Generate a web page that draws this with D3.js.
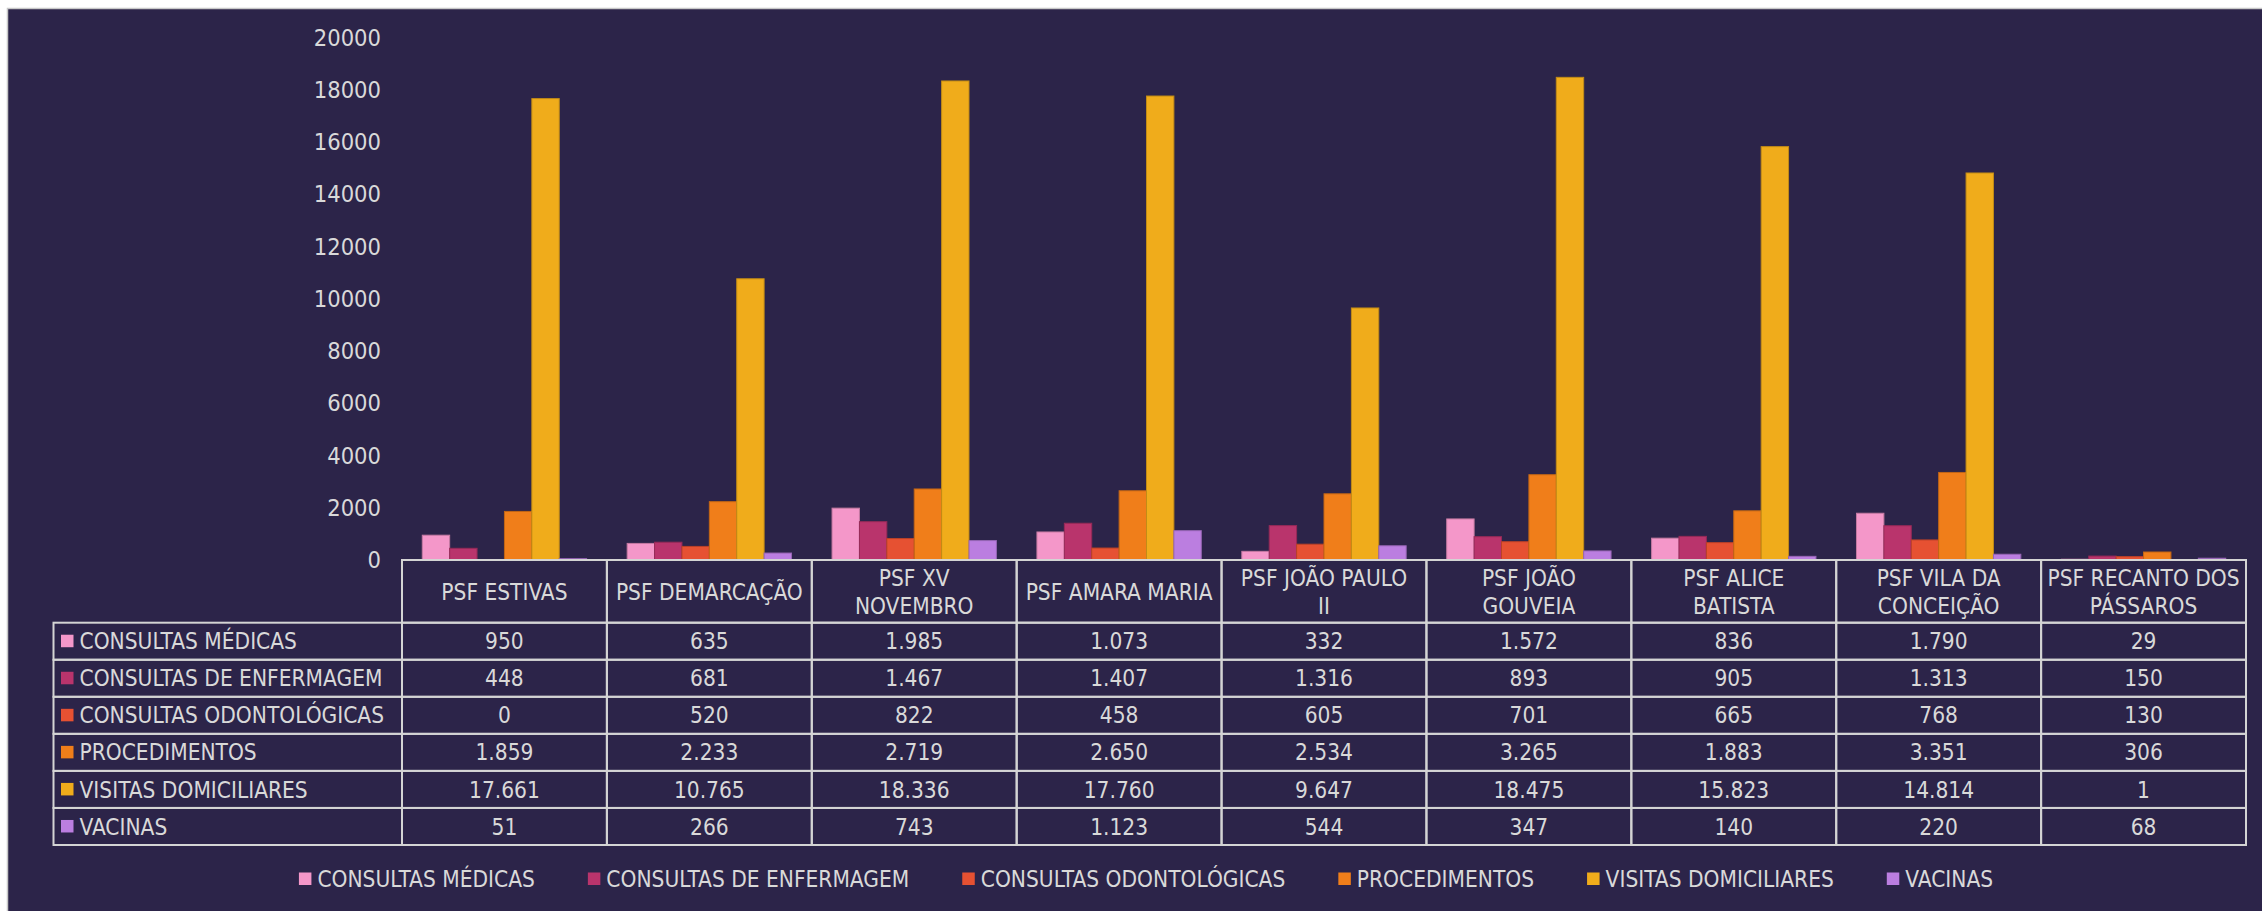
<!DOCTYPE html>
<html>
<head>
<meta charset="utf-8">
<script src="https://cdn.jsdelivr.net/npm/d3@7"></script>
<style>
	html, body { margin: 0; padding: 0; background: #ffffff; }
	svg text { font-family: "DejaVu Sans Condensed", "Liberation Sans Narrow", "Roboto", sans-serif; fill: #d9d9d9; }
</style>
</head>
<body>
<svg id="chart"></svg>
<script>
var categories = [
	["PSF ESTIVAS"],
	["PSF DEMARCAÇÃO"],
	["PSF XV", "NOVEMBRO"],
	["PSF AMARA MARIA"],
	["PSF JOÃO PAULO", "II"],
	["PSF JOÃO", "GOUVEIA"],
	["PSF ALICE", "BATISTA"],
	["PSF VILA DA", "CONCEIÇÃO"],
	["PSF RECANTO DOS", "PÁSSAROS"]
]
var seriesNames = [
	"CONSULTAS MÉDICAS",
	"CONSULTAS DE ENFERMAGEM",
	"CONSULTAS ODONTOLÓGICAS",
	"PROCEDIMENTOS",
	"VISITAS DOMICILIARES",
	"VACINAS"
]
var seriesColors = ["#f497c9", "#b9346c", "#e65132", "#f07e1a", "#f0ac1b", "#bb7ee0"]

var consultasMedicas = [950, 635, 1985, 1073, 332, 1572, 836, 1790, 29]
var consultasEnfermagem = [448, 681, 1467, 1407, 1316, 893, 905, 1313, 150]
var consultasOdonto = [0, 520, 822, 458, 605, 701, 665, 768, 130]
var procedimentos = [1859, 2233, 2719, 2650, 2534, 3265, 1883, 3351, 306]
var visitasDomiciliares = [17661, 10765, 18336, 17760, 9647, 18475, 15823, 14814, 1]
var vacinas = [51, 266, 743, 1123, 544, 347, 140, 220, 68]

var yTicks = [0, 2000, 4000, 6000, 8000, 10000, 12000, 14000, 16000, 18000, 20000]

var seriesValues = [consultasMedicas, consultasEnfermagem, consultasOdonto, procedimentos, visitasDomiciliares, vacinas]

var width = 2262
var height = 911
var fontSize = 22.5
var lineColor = "#d4d4d4"

var svg = d3.select("#chart")
	.attr("width", width)
	.attr("height", height)

// dark chart area with thin border
svg.append("rect")
	.attr("x", 7.5)
	.attr("y", 8.5)
	.attr("width", width)
	.attr("height", height)
	.attr("fill", "#2c2449")
	.attr("stroke", "#c8c8c8")
	.attr("stroke-width", 1.5)

var plotLeft = 402, plotRight = 2246
var yBase = 560, yTop = 37.5

var x = d3.scaleBand()
	.domain(d3.range(categories.length))
	.range([plotLeft, plotRight])
	.padding(0)

var xInner = d3.scaleBand()
	.domain(d3.range(seriesNames.length))
	.range([0, x.bandwidth()])
	.paddingInner(0)
	.paddingOuter(0.74)

var y = d3.scaleLinear()
	.domain([0, 20000])
	.range([yBase, yTop])

// y axis, labels only
var yAxis = d3.axisLeft(y)
	.tickValues(yTicks)
	.tickSize(0)
	.tickPadding(0)
	.tickFormat(d3.format("d"))

var yAxisG = svg.append("g")
	.attr("transform", "translate(381,0)")
	.call(yAxis)
yAxisG.select(".domain").remove()
yAxisG.selectAll("text")
	.attr("font-size", fontSize + 1)
	.style("font-family", null)
	.attr("fill", "#d9d9d9")

// bars
var groups = svg.append("g")
	.selectAll("g")
	.data(categories)
	.enter()
	.append("g")
	.attr("transform", function(d, i) {
		return "translate(" + x(i) + ",0)"
	})

groups.selectAll("rect")
	.data(function(d, i) {
		return seriesValues.map(function(vals, s) {
			return { s: s, v: vals[i] }
		})
	})
	.enter()
	.append("rect")
	.attr("x", function(d) { return xInner(d.s) })
	.attr("width", xInner.bandwidth())
	.attr("y", function(d) { return y(d.v) })
	.attr("height", function(d) { return yBase - y(d.v) })
	.attr("fill", function(d) { return seriesColors[d.s] })
	.attr("stroke", function(d) { return d3.color(seriesColors[d.s]).darker(0.6) })
	.attr("stroke-width", function(d) { return d.v > 0 ? 1 : 0 })

// data table
var headerTop = yBase, headerBottom = 622.7
var rowH = (845 - headerBottom) / seriesNames.length
var tableLeft = 53.5

var table = svg.append("g")
	.attr("stroke", lineColor)
	.attr("stroke-width", 2)
	.attr("fill", "none")

// header cells
table.selectAll("rect.head")
	.data(categories)
	.enter()
	.append("rect")
	.attr("class", "head")
	.attr("x", function(d, i) { return x(i) })
	.attr("y", headerTop)
	.attr("width", x.bandwidth())
	.attr("height", headerBottom - headerTop)

// row cells
seriesNames.forEach(function(name, r) {
	var ry = headerBottom + r * rowH
	table.append("rect")
		.attr("x", tableLeft)
		.attr("y", ry)
		.attr("width", plotLeft - tableLeft)
		.attr("height", rowH)
	categories.forEach(function(c, i) {
		table.append("rect")
			.attr("x", x(i))
			.attr("y", ry)
			.attr("width", x.bandwidth())
			.attr("height", rowH)
	})
})

// header labels
var headText = svg.append("g")
	.selectAll("text")
	.data(categories)
	.enter()
	.append("text")
	.attr("text-anchor", "middle")
	.attr("font-size", fontSize)
	.attr("x", function(d, i) { return x(i) + x.bandwidth() / 2 })
	.attr("y", function(d) { return d.length === 1 ? 600 : 586 })

headText.selectAll("tspan")
	.data(function(d) { return d })
	.enter()
	.append("tspan")
	.attr("x", function() { return d3.select(this.parentNode).attr("x") })
	.attr("dy", function(d, i) { return i === 0 ? 0 : 28 })
	.text(function(d) { return d })

var fmt = d3.formatLocale({ decimal: ",", thousands: ".", grouping: [3], currency: ["", ""] }).format(",d")

// row labels and values
seriesNames.forEach(function(name, r) {
	var cy = headerBottom + r * rowH + rowH / 2
	svg.append("rect")
		.attr("x", 61)
		.attr("y", cy - 6.5)
		.attr("width", 12.5)
		.attr("height", 12.5)
		.attr("fill", seriesColors[r])
	svg.append("text")
		.attr("x", 79.5)
		.attr("y", cy)
		.attr("dy", "0.36em")
		.attr("font-size", fontSize)
		.text(name)
	svg.append("g")
		.selectAll("text")
		.data(seriesValues[r])
		.enter()
		.append("text")
		.attr("text-anchor", "middle")
		.attr("font-size", fontSize)
		.attr("x", function(d, i) { return x(i) + x.bandwidth() / 2 })
		.attr("y", cy)
		.attr("dy", "0.36em")
		.text(function(d) { return fmt(d) })
})

// bottom legend
var legend = svg.append("g")
var legendY = 879
var lx = 0
seriesNames.forEach(function(name, s) {
	var g = legend.append("g").attr("transform", "translate(" + lx + ",0)")
	g.append("rect")
		.attr("x", 0)
		.attr("y", legendY - 6.5)
		.attr("width", 12.5)
		.attr("height", 12.5)
		.attr("fill", seriesColors[s])
	var t = g.append("text")
		.attr("x", 18.5)
		.attr("y", legendY)
		.attr("dy", "0.36em")
		.attr("font-size", fontSize)
		.text(name)
	lx += 18.5 + t.node().getComputedTextLength() + 53
})
var legendW = lx - 53
legend.attr("transform", "translate(" + (1146 - legendW / 2) + ",0)")
</script>
</body>
</html>
